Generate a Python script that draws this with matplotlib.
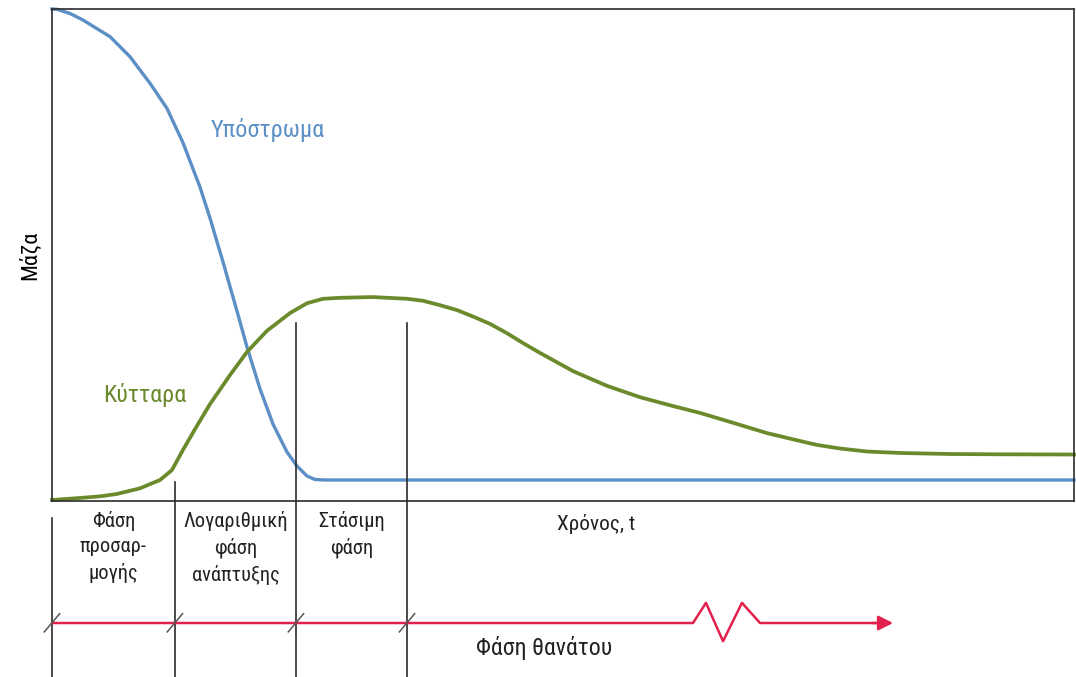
import matplotlib.pyplot as plt
from matplotlib import font_manager

# pick a narrow-ish family if one is installed
installed = {f.name for f in font_manager.fontManager.ttflist}
cands = ['Roboto Condensed', 'Open Sans Condensed', 'Liberation Sans Narrow', 'Roboto', 'Noto Sans']
fam = [c for c in cands if c in installed][:1]
plt.rcParams['font.family'] = fam + ['DejaVu Sans']

# substrate (blue) curve: time vs mass
sub_t = [0, 0.49, 1.76, 3.03, 5.68, 7.63, 9.59, 11.25, 12.82, 14.48, 15.46,
         16.73, 18.10, 19.08, 20.35, 21.62, 22.99, 23.97, 24.95, 25.73, 26.71, 100]
sub_m = [100, 99.94, 99.09, 97.76, 94.37, 90.3, 84.9, 79.8, 72.8, 63.8, 57.5,
         48.6, 38.6, 31.3, 22.8, 15.65, 9.96, 7.1, 5.08, 4.37, 4.27, 4.27]

# cells (green) curve
cell_t = [0, 3.06, 4.7, 6.33, 8.61, 10.57, 11.74, 12.82, 13.99, 15.46, 17.42,
          19.08, 21.04, 23.29, 24.95, 26.52, 28.18, 31.41, 34.74, 36.3, 37.96,
          39.63, 41.19, 42.86, 44.52, 46.09, 47.75, 50.98, 54.31, 57.53, 60.76,
          63.41, 66.63, 69.96, 73.19, 74.85, 77.10, 79.75, 82.97, 87.87, 92.76, 100]
cell_m = [0.2, 0.67, 0.95, 1.42, 2.58, 4.27, 6.3, 10.4, 14.6, 19.7, 25.6,
          30.3, 34.6, 38.2, 40.2, 41.1, 41.3, 41.45, 41.1, 40.7, 39.8,
          38.8, 37.5, 36.0, 34.1, 32.1, 30.1, 26.4, 23.4, 21.1, 19.3,
          17.9, 15.9, 13.8, 12.2, 11.4, 10.67, 10.06, 9.76, 9.55, 9.49, 9.45]

# phase boundaries on the time axis
phase_t = [0, 12.03, 23.87, 34.74]
phase_top = [-3.5, 3.9, 36.2, 36.2]
phase_labels = ['Φάση\nπροσαρ-\nμογής', 'Λογαριθμική\nφάση\nανάπτυξης', 'Στάσιμη\nφάση']

# death phase arrow with break mark
death_t = [0, 62.72, 63.99, 65.66, 67.51, 69.28, 80.5]
death_y = [-24.8, -24.8, -20.7, -28.5, -20.7, -24.8, -24.8]

blue = '#5b8fc6'
green = '#6b8a2c'
red = '#e2204e'
dark = '#2b2b2b'

fig = plt.figure(figsize=(10.76, 6.77), dpi=100)
ax = fig.add_axes([52 / 1076, 176 / 677, 1022 / 1076, 492 / 677])
ax.set_xlim(0, 100)
ax.set_ylim(0, 100)
ax.set_xticks([])
ax.set_yticks([])
for s in ax.spines.values():
    s.set_color(dark)
    s.set_linewidth(1.2)

ax.plot(sub_t, sub_m, color=blue, lw=2.4, solid_joinstyle='round', clip_on=False)
ax.plot(cell_t, cell_m, color=green, lw=2.7, solid_joinstyle='round', clip_on=False)

ax.text(21.1, 75.4, 'Υπόστρωμα', color=blue, fontsize=17.5, ha='center', va='center')
ax.text(9.1, 21.5, 'Κύτταρα', color=green, fontsize=17.5, ha='center', va='center')
ax.set_ylabel('Μάζα', fontsize=16, labelpad=8)

# phase separators
for t, top in zip(phase_t, phase_top):
    ax.plot([t, t], [top, -35.8], color=dark, lw=1.2, clip_on=False)

for i, lab in enumerate(phase_labels):
    xc = (phase_t[i] + phase_t[i + 1]) / 2
    ax.text(xc, -2.0, lab, fontsize=14.8, ha='center', va='top', linespacing=1.42,
            color='#222222')

ax.text(53.2, -4.7, 'Χρόνος, t', fontsize=15.3, ha='center', va='center', color='#222222')

# death phase arrow
ax.plot(death_t, death_y, color=red, lw=1.8, clip_on=False)
ax.annotate('', xy=(82.3, -24.8), xytext=(80.3, -24.8),
            arrowprops=dict(arrowstyle='-|>', color=red, lw=1.8,
                            mutation_scale=22, shrinkA=0, shrinkB=0),
            annotation_clip=False)
for t in phase_t:
    ax.plot([t - 0.75, t + 0.75], [-26.6, -22.9], color='#555555', lw=1.1, clip_on=False)

ax.text(48.2, -29.9, 'Φάση θανάτου', fontsize=17.2, ha='center', va='center', color='#222222')

fig.savefig('out.png', dpi=100)
